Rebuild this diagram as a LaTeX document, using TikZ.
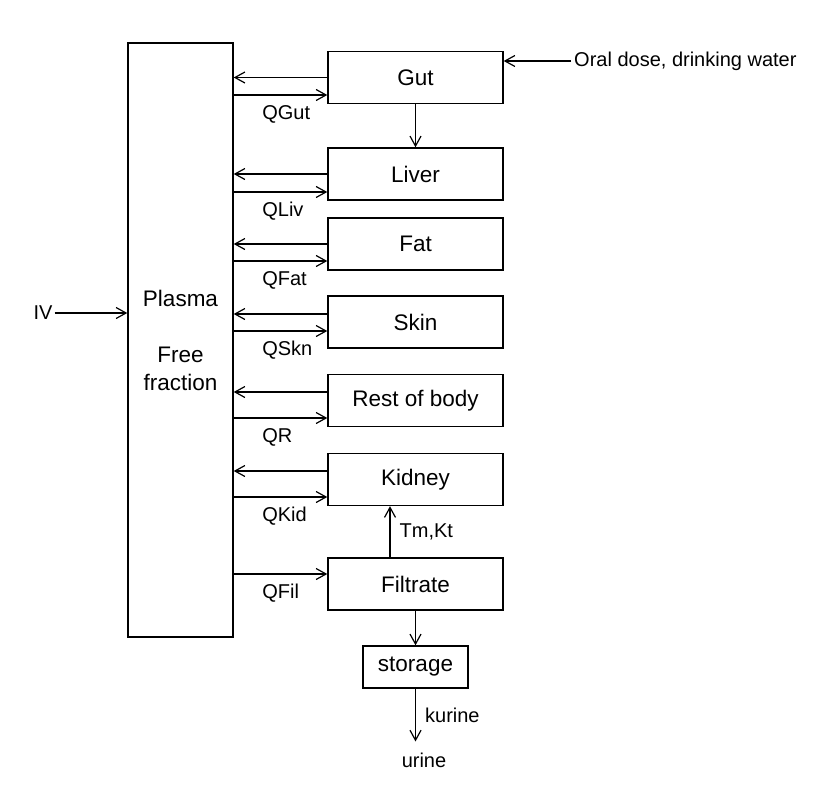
\documentclass[tikz,border=0pt]{standalone}
\usepackage{fontspec}
\setmainfont{Liberation Sans}
\usepackage{tikz}
\usetikzlibrary{positioning, calc, arrows.meta}

\tikzset{
	organ/.style={draw, line width=1.4pt, minimum width=175pt, minimum height=52pt, inner sep=0pt, font=\fontsize{22.5}{28}\selectfont},
	flow/.style={-{Straight Barb[length=10pt, width=11pt, line width=1.2pt]}, line width=1.25pt},
	qlabel/.style={anchor=west, xshift=26pt, yshift=-19pt, inner sep=2pt},
}

\begin{document}
\begin{tikzpicture}[x=1pt, y=-1pt, font=\fontsize{20}{24}\selectfont]
		\useasboundingbox (0,0) rectangle (834,795);
		
		\node[draw, line width=1.4pt, minimum width=105pt, minimum height=594pt, align=center, font=\fontsize{22.5}{28}\selectfont] (plasma) at (180.5,340) {Plasma\\ \\Free\\fraction};
		\node[inner sep=2pt] (iv) at (43,313) {IV};
		\draw[flow] (iv) -- (iv -| plasma.west);
		
		\node[organ] (gut) at (415.5,77.5) {Gut};
		\node[organ] (liver) at (415.5,174) {Liver};
		\node[organ] (fat) at (415.5,244) {Fat};
		\node[organ] (skin) at (415.5,322) {Skin};
		\node[organ] (rest) at (415.5,400.5) {Rest of body};
		\node[organ] (kidney) at (415.5,479.5) {Kidney};
		\node[organ] (filtrate) at (415.5,584) {Filtrate};
		\node[organ, minimum width=105pt, minimum height=42pt] (storage) at (415.5,667) {storage};
		\node[inner sep=2pt] (urine) at (424,760) {urine};
		
		\node[anchor=west, inner sep=3pt] (oral) at (571,61) {Oral dose, drinking water};
		\draw[flow] (oral.west) -- (oral.west -| gut.east);
		
		% gut
		\draw[flow] (gut.west) -- (gut.west -| plasma.east);
		\draw[flow] ([yshift=-17.5pt]gut.west -| plasma.east) node[qlabel] {QGut} -- ([yshift=-17.5pt]gut.west);
		\draw[flow] (gut) -- (liver);
		
		% liver
		\draw[flow] (liver.west) -- (liver.west -| plasma.east);
		\draw[flow] ([yshift=-18pt]liver.west -| plasma.east) node[qlabel] {QLiv} -- ([yshift=-18pt]liver.west);
		
		% fat
		\draw[flow] (fat.west) -- (fat.west -| plasma.east);
		\draw[flow] ([yshift=-17pt]fat.west -| plasma.east) node[qlabel] {QFat} -- ([yshift=-17pt]fat.west);
		
		% skin
		\draw[flow] ([yshift=8pt]skin.west) -- ([yshift=8pt]skin.west -| plasma.east);
		\draw[flow] ([yshift=-9pt]skin.west -| plasma.east) node[qlabel] {QSkn} -- ([yshift=-9pt]skin.west);
		
		% rest of body
		\draw[flow] ([yshift=8.5pt]rest.west) -- ([yshift=8.5pt]rest.west -| plasma.east);
		\draw[flow] ([yshift=-17.5pt]rest.west -| plasma.east) node[qlabel] {QR} -- ([yshift=-17.5pt]rest.west);
		
		% kidney
		\draw[flow] ([yshift=8.5pt]kidney.west) -- ([yshift=8.5pt]kidney.west -| plasma.east);
		\draw[flow] ([yshift=-17.5pt]kidney.west -| plasma.east) node[qlabel] {QKid} -- ([yshift=-17.5pt]kidney.west);
		
		% filtrate
		\draw[flow] ([yshift=10pt]filtrate.west -| plasma.east) node[qlabel] {QFil} -- ([yshift=10pt]filtrate.west);
		\draw[flow] ([xshift=-25.5pt]filtrate.north) -- ([xshift=-25.5pt]kidney.south) node[midway, right=9pt, inner sep=0pt] {Tm,Kt};
		\draw[flow] (filtrate) -- (storage);
		\draw[flow] (storage.south) -- ([yshift=9pt]storage.south |- urine.north) node[midway, right=9pt, inner sep=0pt] {kurine};
		
\end{tikzpicture}
\end{document}
